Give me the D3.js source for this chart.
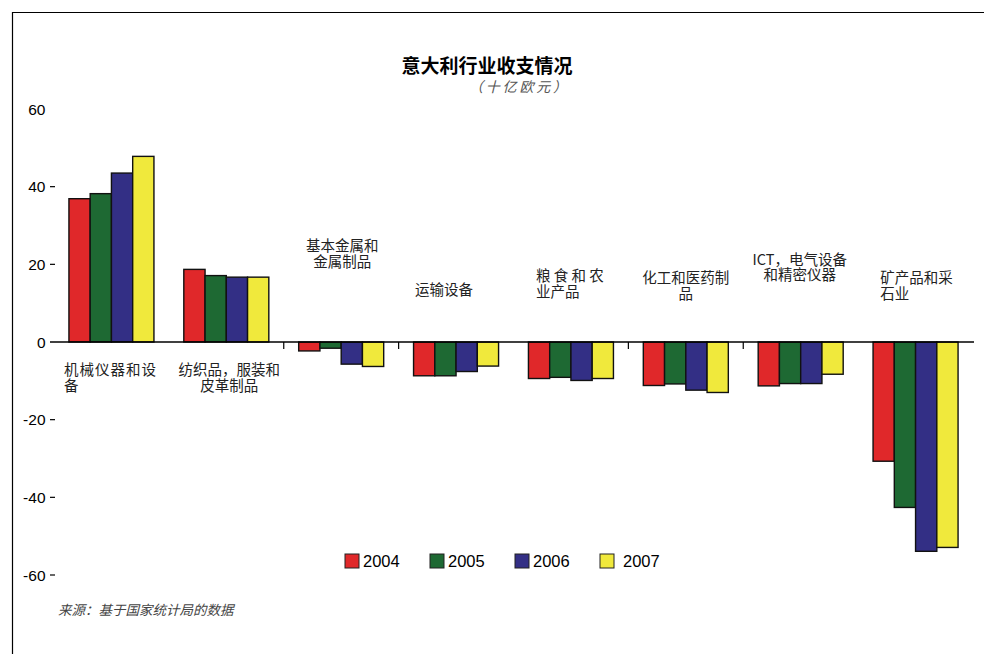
<!DOCTYPE html>
<html>
<head>
<meta charset="utf-8">
<script src="https://cdn.jsdelivr.net/npm/d3@7"></script>
<style>
  html, body { margin: 0; padding: 0; background: #fff; }
  svg { display: block; }
</style>
</head>
<body>
<svg id="chart" width="984" height="654"></svg>
<script>
// ---------- DATA ----------
const categories = [
  ["机械仪器和设", "备"],
  ["纺织品，服装和", "皮革制品"],
  ["基本金属和", "金属制品"],
  ["运输设备"],
  ["粮 食 和 农", "业产品"],
  ["化工和医药制", "品"],
  ["ICT，电气设备", "和精密仪器"],
  ["矿产品和采", "石业"]
];
const years = ["2004", "2005", "2006", "2007"];
const values2004 = [36.9, 18.7, -2.3, -8.7, -9.4, -11.2, -11.3, -30.7];
const values2005 = [38.2, 17.1, -1.6, -8.7, -9.1, -10.8, -10.7, -42.6];
const values2006 = [43.5, 16.7, -5.7, -7.6, -9.9, -12.4, -10.7, -53.9];
const values2007 = [47.8, 16.7, -6.3, -6.2, -9.4, -13.0, -8.3, -52.9];
const yTicks = [60, 40, 20, 0, -20, -40, -60];
const title = "意大利行业收支情况";
const subtitle = "（十亿欧元）";
const source = "来源：基于国家统计局的数据";

// ---------- LAYOUT (not data) ----------
const series = [values2004, values2005, values2006, values2007];
const colors = ["#E0282A", "#1E6933", "#332F85", "#F0E93C"];
const labelLayout = [
  { y: [375, 391], dx: -1, wrap: true, ls: 1 },
  { y: [375, 391], dx: 3, wrap: false, ls: 0 },
  { y: [251, 267], dx: 1, wrap: false, ls: 0 },
  { y: [295], dx: -12, wrap: false, ls: 0 },
  { y: [281, 297], dx: -1, wrap: true, ls: 0 },
  { y: [283, 299], dx: 0, wrap: false, ls: 0 },
  { y: [265, 280], dx: -1, wrap: false, ls: 0 },
  { y: [283, 299], dx: 1, wrap: true, ls: 0 }
];
const boundaryTicks = [2, 3, 5, 6];

const svg = d3.select("#chart");
const cjk = "'Noto Sans CJK SC', 'Noto Sans', sans-serif";
const latin = "'Liberation Sans', Arial, sans-serif";

// frame
svg.append("path")
  .attr("d", "M12.5,654 V12.5 H984")
  .attr("fill", "none").attr("stroke", "#000").attr("stroke-width", 1.2);

const idx = d3.range(categories.length);
const x0 = d3.scaleBand().domain(idx).range([54, 973]).paddingInner(0.26).paddingOuter(0.13);
const x1 = d3.scaleBand().domain(d3.range(years.length)).range([0, x0.bandwidth()]);
const y = d3.scaleLinear().domain([-60, 60]).range([575, 109]);

// title
svg.append("text").attr("x", 487).attr("y", 73).attr("text-anchor", "middle")
  .attr("font-family", cjk).attr("font-weight", "bold").attr("font-size", 19)
  .attr("fill", "#000").text(title);
svg.append("text").attr("x", 469).attr("y", 91.5)
  .attr("textLength", 98).attr("lengthAdjust", "spacing")
  .attr("font-family", cjk).attr("font-style", "italic").attr("font-size", 14)
  .attr("fill", "#555").text(subtitle);

// y axis labels and dashes
const yg = svg.append("g");
yg.selectAll("text").data(yTicks).join("text")
  .attr("x", 45.5).attr("y", d => y(d) + 5.5).attr("text-anchor", "end")
  .attr("font-family", latin).attr("font-size", 15.5).attr("fill", "#000")
  .text(d => d);
yg.selectAll("line").data(yTicks.filter(d => d !== 0 && d !== 60)).join("line")
  .attr("x1", 50).attr("x2", 55).attr("y1", d => y(d)).attr("y2", d => y(d))
  .attr("stroke", "#000").attr("stroke-width", 1.2);

// bars
const groups = svg.append("g").selectAll("g").data(idx).join("g")
  .attr("transform", i => `translate(${x0(i)},0)`);
groups.selectAll("rect")
  .data(i => series.map((s, k) => ({ k, v: s[i] })))
  .join("rect")
  .attr("x", d => x1(d.k))
  .attr("width", x1.bandwidth())
  .attr("y", d => Math.min(y(d.v), y(0)))
  .attr("height", d => Math.abs(y(d.v) - y(0)))
  .attr("fill", d => colors[d.k])
  .attr("stroke", "#111").attr("stroke-width", 1.4);

// zero line
svg.append("line").attr("x1", 50).attr("x2", 974).attr("y1", y(0)).attr("y2", y(0))
  .attr("stroke", "#000").attr("stroke-width", 1.4);

// boundary ticks
const step = x0.step();
svg.append("g").selectAll("line").data(boundaryTicks).join("line")
  .attr("x1", k => x0(k) - (step - x0.bandwidth()) / 2)
  .attr("x2", k => x0(k) - (step - x0.bandwidth()) / 2)
  .attr("y1", y(0)).attr("y2", y(0) + 7)
  .attr("stroke", "#000").attr("stroke-width", 1.2);

// category labels
idx.forEach(i => {
  const lines = categories[i];
  const lay = labelLayout[i];
  const cx = x0(i) + x0.bandwidth() / 2 + lay.dx;
  const t1 = svg.append("text")
    .attr("x", cx).attr("y", lay.y[0]).attr("text-anchor", "middle")
    .attr("font-family", cjk).attr("font-size", 14.5).attr("fill", "#222")
    .attr("letter-spacing", lay.ls).text(lines[0]);
  const w = t1.node().getComputedTextLength();
  const left = cx - w / 2;
  lines.slice(1).forEach((ln, j) => {
    svg.append("text")
      .attr("x", lay.wrap ? left : cx).attr("y", lay.y[j + 1])
      .attr("text-anchor", lay.wrap ? "start" : "middle")
      .attr("font-family", cjk).attr("font-size", 14.5).attr("fill", "#222")
      .attr("letter-spacing", lay.ls).text(ln);
  });
});

// legend
const lg = svg.append("g").selectAll("g").data(years).join("g")
  .attr("transform", (d, k) => `translate(${345 + k * 85},554)`);
lg.append("rect").attr("width", 14).attr("height", 14)
  .attr("fill", (d, k) => colors[k]).attr("stroke", "#222").attr("stroke-width", 1);
lg.append("text").attr("x", (d, k) => k === 3 ? 23 : 18).attr("y", 13)
  .attr("font-family", latin).attr("font-size", 16.5).attr("fill", "#000")
  .text(d => d);

// source
svg.append("text").attr("x", 58).attr("y", 615)
  .attr("font-family", cjk).attr("font-style", "italic").attr("font-size", 13.5)
  .attr("fill", "#444").text(source);
</script>
</body>
</html>
